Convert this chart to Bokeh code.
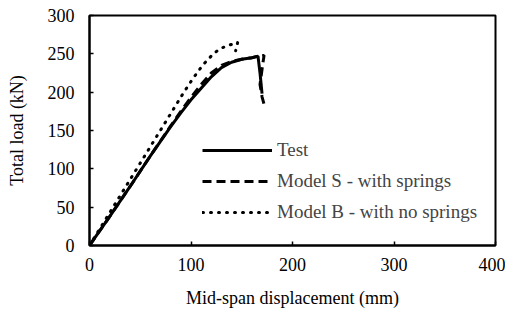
from bokeh.plotting import figure
from bokeh.models import Legend, LegendItem, Range1d, FixedTicker
from bokeh.embed import file_html
from bokeh.resources import INLINE

# Data (mid-span displacement in mm, total load in kN)
test_x = [0, 20, 40, 60, 80, 90, 100, 110, 120, 130, 140, 150, 160, 166, 168, 170]
test_y = [0, 38, 77, 117, 155, 173, 190, 205, 220, 232, 239, 243, 245, 247, 225, 198]

springs_x = [0, 20, 40, 60, 80, 90, 100, 110, 120, 130, 140, 150, 160, 167, 172, 170.5, 168, 170, 173]
springs_y = [0, 38, 77, 117, 156, 175, 193, 210, 225, 235, 240, 243, 245, 247, 248, 235, 210, 194, 179]

nospring_x = [0, 20, 40, 60, 80, 93, 102, 112, 122, 129, 137, 146, 144]
nospring_y = [0, 43, 86, 129, 172, 200, 218, 236, 250, 257, 261, 265, 254]

x_ticks = [0, 100, 200, 300, 400]
y_ticks = [0, 50, 100, 150, 200, 250, 300]

labels = ["Test", "Model S - with springs", "Model B - with no springs"]

FONT = "Liberation Serif"

p = figure(width=505, height=310, output_backend="svg", toolbar_location=None,
           x_range=Range1d(0, 400), y_range=Range1d(0, 300),
           min_border_left=89, min_border_right=10, min_border_top=15, min_border_bottom=64)

p.xgrid.visible = False
p.ygrid.visible = False
p.outline_line_color = "black"
p.outline_line_width = 2
p.background_fill_color = "white"
p.border_fill_color = "white"

r1 = p.line(test_x, test_y, line_color="black", line_width=3)
r2 = p.line(springs_x, springs_y, line_color="black", line_width=3, line_dash="9 5")
r3 = p.line(nospring_x, nospring_y, line_color="black", line_width=3, line_dash="1 7", line_cap="round")

for ax, ticks in ((p.xaxis[0], x_ticks), (p.yaxis[0], y_ticks)):
    ax.ticker = FixedTicker(ticks=ticks)
    ax.axis_line_width = 2
    ax.axis_line_color = "black"
    ax.major_tick_in = 4
    ax.major_tick_out = 0
    ax.major_tick_line_color = "black"
    ax.major_tick_line_width = 1.5
    ax.minor_tick_line_color = None
    ax.major_label_text_font = FONT
    ax.major_label_text_font_size = "18px"
    ax.major_label_text_color = "black"
    ax.axis_label_text_font = FONT
    ax.axis_label_text_font_size = "18px"
    ax.axis_label_text_font_style = "normal"
    ax.axis_label_text_color = "black"

p.xaxis.axis_label = "Mid-span displacement (mm)"
p.yaxis.axis_label = "Total load (kN)"
p.xaxis.major_label_standoff = 12
p.xaxis.axis_label_standoff = 14
p.yaxis.major_label_standoff = 15
p.yaxis.axis_label_standoff = 18

legend = Legend(items=[LegendItem(label=labels[0], renderers=[r1]),
                       LegendItem(label=labels[1], renderers=[r2]),
                       LegendItem(label=labels[2], renderers=[r3])],
                location=(113, 22), padding=0, margin=0, spacing=9,
                glyph_width=70, glyph_height=20, label_height=20, label_standoff=5,
                label_text_font=FONT, label_text_font_size="19px",
                border_line_alpha=0, background_fill_alpha=0)
p.add_layout(legend)

open("out.html", "w").write(file_html(p, INLINE))
